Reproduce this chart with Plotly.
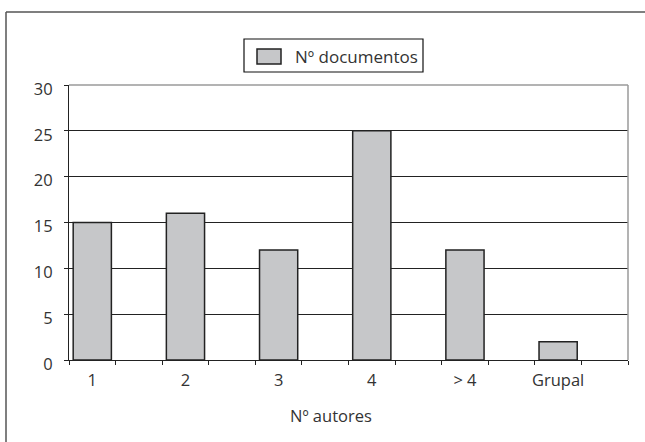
import plotly.graph_objects as go

categories = ["1", "2", "3", "4", "> 4", "Grupal"]
documentos = [15, 16, 12, 25, 12, 2]
series_name = "Nº documentos"
x_title = "Nº autores"
y_ticks = [0, 5, 10, 15, 20, 25, 30]

# each category is followed by an empty slot (as in the original chart)
slots = []
for i, c in enumerate(categories):
    slots.append(c)
    slots.append(" " * (i + 1))

W, H = 645, 442
L, R, T, B = 69, 628, 85, 360

def px(x):
    return (x - L) / (R - L)

def py(y):
    return (B - y) / (B - T)

FONT = "Open Sans"
TXT = "#333333"
FILL = "#c6c7c9"
EDGE = "#222222"
FS = 16.5

fig = go.Figure()
fig.add_trace(go.Bar(
    x=categories, y=documentos, name=series_name,
    marker=dict(color=FILL, line=dict(color=EDGE, width=1.5)),
    showlegend=False,
))

fig.update_layout(
    width=W, height=H,
    margin=dict(l=L, r=W - R, t=T, b=H - B, autoexpand=False),
    paper_bgcolor="white", plot_bgcolor="white",
    font=dict(family=FONT, size=FS, color=TXT),
    bargap=0.18,
    showlegend=False,
    xaxis=dict(
        type="category", categoryorder="array", categoryarray=slots,
        range=[-0.5, len(slots) - 0.5],
        tickson="boundaries", ticks="outside", ticklen=4, tickcolor=EDGE,
        tickangle=0, automargin=False, ticklabelstandoff=5,
        showline=True, linecolor=EDGE, linewidth=1.2,
        showgrid=False, zeroline=False,
        tickfont=dict(family=FONT, size=FS, color=TXT),
        fixedrange=True,
    ),
    yaxis=dict(
        range=[0, 30], tickmode="array", tickvals=y_ticks,
        ticks="outside", ticklen=4, tickcolor=EDGE, automargin=False,
        showline=True, linecolor=EDGE, linewidth=1.2,
        showgrid=True, gridcolor=EDGE, gridwidth=1,
        zeroline=False,
        tickfont=dict(family=FONT, size=FS, color=TXT),
        ticklabelstandoff=8, ticklabelshift=4,
        fixedrange=True,
    ),
    shapes=[
        # gray plot-area border (top and right)
        dict(type="line", xref="paper", yref="paper", x0=0, x1=1, y0=1, y1=1,
             line=dict(color="#9a9a9a", width=1.5), layer="above"),
        dict(type="line", xref="paper", yref="paper", x0=1, x1=1, y0=0, y1=1,
             line=dict(color="#9a9a9a", width=1.5), layer="above"),
        # outer frame
        dict(type="line", xref="paper", yref="paper", x0=px(6), x1=px(660),
             y0=py(12), y1=py(12), line=dict(color="#555555", width=1.5)),
        dict(type="line", xref="paper", yref="paper", x0=px(6), x1=px(6),
             y0=py(12), y1=py(460), line=dict(color="#555555", width=1.5)),
        # legend box and swatch
        dict(type="rect", xref="paper", yref="paper", x0=px(244), x1=px(423),
             y0=py(72), y1=py(39), line=dict(color="#111111", width=1.2),
             fillcolor="white"),
        dict(type="rect", xref="paper", yref="paper", x0=px(257), x1=px(281),
             y0=py(64), y1=py(49), line=dict(color=EDGE, width=1.5),
             fillcolor=FILL),
    ],
    annotations=[
        dict(text=series_name, xref="paper", yref="paper", x=px(293), y=py(56),
             xanchor="left", yanchor="middle", showarrow=False,
             font=dict(family=FONT, size=17, color=TXT)),
        dict(text=x_title, xref="paper", yref="paper", x=px(331), y=py(415),
             xanchor="center", yanchor="middle", showarrow=False,
             font=dict(family=FONT, size=FS, color=TXT)),
    ],
)

fig.write_html("out.html", config={"displayModeBar": False},
               post_script="document.body.style.margin='0';")
